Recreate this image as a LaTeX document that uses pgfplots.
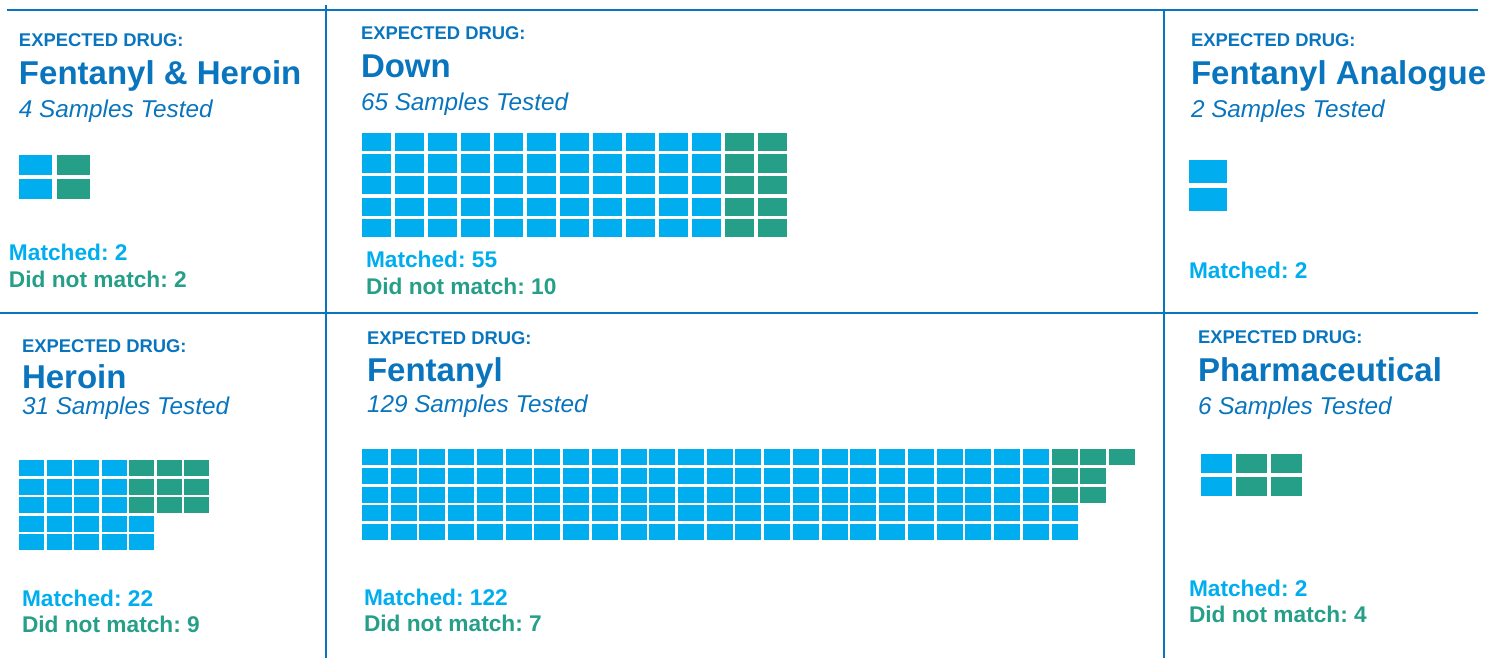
\documentclass[border=0pt]{standalone}
\usepackage{pgfplots}
\pgfplotsset{compat=1.18}
\usepackage{fontspec}
\setmainfont{Liberation Sans}
\frenchspacing
\definecolor{cblue}{RGB}{0,174,239}
\definecolor{cgreen}{RGB}{38,159,137}
\definecolor{dblue}{RGB}{8,117,190}
\pgfdeclareplotmark{cell}{\pgfpathrectangle{\pgfpoint{-\pgfplotmarksize}{-\pgfplotmarksize}}{\pgfpoint{2\pgfplotmarksize}{2\pgfplotmarksize}}\pgfusepathqfill}
\tikzset{
 lab/.style={anchor=base west, inner sep=0pt, outer sep=0pt, text=dblue, font=\bfseries\fontsize{18.4}{19}\selectfont},
 ttl/.style={anchor=base west, inner sep=0pt, outer sep=0pt, text=dblue, font=\bfseries\fontsize{33}{34}\selectfont},
 sub/.style={anchor=base west, inner sep=0pt, outer sep=0pt, text=dblue, font=\itshape\fontsize{24.3}{25}\selectfont},
 mt/.style={anchor=base west, inner sep=0pt, outer sep=0pt, text=cblue, font=\bfseries\fontsize{22.7}{23}\selectfont},
 dn/.style={anchor=base west, inner sep=0pt, outer sep=0pt, text=cgreen, font=\bfseries\fontsize{22.7}{23}\selectfont},
}
\begin{document}
\begin{tikzpicture}
\begin{axis}[
  width=1491pt, height=658pt, scale only axis,
  xmin=0, xmax=1491, ymin=0, ymax=658, y dir=reverse,
  hide axis, clip=false,
]
% frame lines
\addplot[dblue, line width=2.5pt] coordinates {(7,10) (1478,10)};
\addplot[dblue, line width=2.5pt] coordinates {(0,313) (1478,313)};
\addplot[dblue, line width=2.5pt] coordinates {(326,5) (326,658)};
\addplot[dblue, line width=2.5pt] coordinates {(1164,10) (1164,658)};

% ---------- Fentanyl & Heroin: left 19, top 155, w 33, h 20, px 38, py 24
\addplot[only marks, mark=cell, mark size=10pt, mark options={xscale=1.65}, color=cblue]
  table[row sep=\\, x expr={19+16.5+38*\thisrow{c}}, y expr={155+10+24*\thisrow{r}}] {c r\\ 0 0\\ 0 1\\};
\addplot[only marks, mark=cell, mark size=10pt, mark options={xscale=1.65}, color=cgreen]
  table[row sep=\\, x expr={19+16.5+38*\thisrow{c}}, y expr={155+10+24*\thisrow{r}}] {c r\\ 1 0\\ 1 1\\};

% ---------- Down: left 362, top 133, w 29, h 18, px 33, py 21.5
\addplot[only marks, mark=cell, mark size=9pt, mark options={xscale=1.611}, color=cblue]
  table[row sep=\\, x expr={362+14.5+33*\thisrow{c}}, y expr={133+9+21.5*\thisrow{r}}] {c r\\
  0 0\\ 0 1\\ 0 2\\ 0 3\\ 0 4\\
  1 0\\ 1 1\\ 1 2\\ 1 3\\ 1 4\\
  2 0\\ 2 1\\ 2 2\\ 2 3\\ 2 4\\
  3 0\\ 3 1\\ 3 2\\ 3 3\\ 3 4\\
  4 0\\ 4 1\\ 4 2\\ 4 3\\ 4 4\\
  5 0\\ 5 1\\ 5 2\\ 5 3\\ 5 4\\
  6 0\\ 6 1\\ 6 2\\ 6 3\\ 6 4\\
  7 0\\ 7 1\\ 7 2\\ 7 3\\ 7 4\\
  8 0\\ 8 1\\ 8 2\\ 8 3\\ 8 4\\
  9 0\\ 9 1\\ 9 2\\ 9 3\\ 9 4\\
  10 0\\ 10 1\\ 10 2\\ 10 3\\ 10 4\\
  };
\addplot[only marks, mark=cell, mark size=9pt, mark options={xscale=1.611}, color=cgreen]
  table[row sep=\\, x expr={362+14.5+33*\thisrow{c}}, y expr={133+9+21.5*\thisrow{r}}] {c r\\
  11 0\\ 11 1\\ 11 2\\ 11 3\\ 11 4\\
  12 0\\ 12 1\\ 12 2\\ 12 3\\ 12 4\\
  };

% ---------- Fentanyl Analogue: left 1189, top 160, w 38, h 23, py 28
\addplot[only marks, mark=cell, mark size=11.5pt, mark options={xscale=1.652}, color=cblue]
  table[row sep=\\, x expr={1189+19+38*\thisrow{c}}, y expr={160+11.5+28*\thisrow{r}}] {c r\\ 0 0\\ 0 1\\};

% ---------- Heroin: left 19, top 460, w 25, h 16, px 27.5, py 18.5
\addplot[only marks, mark=cell, mark size=8pt, mark options={xscale=1.5625}, color=cblue]
  table[row sep=\\, x expr={19+12.5+27.5*\thisrow{c}}, y expr={460+8+18.5*\thisrow{r}}] {c r\\
  0 0\\ 0 1\\ 0 2\\ 0 3\\ 0 4\\
  1 0\\ 1 1\\ 1 2\\ 1 3\\ 1 4\\
  2 0\\ 2 1\\ 2 2\\ 2 3\\ 2 4\\
  3 0\\ 3 1\\ 3 2\\ 3 3\\ 3 4\\
  4 3\\ 4 4\\
  };
\addplot[only marks, mark=cell, mark size=8pt, mark options={xscale=1.5625}, color=cgreen]
  table[row sep=\\, x expr={19+12.5+27.5*\thisrow{c}}, y expr={460+8+18.5*\thisrow{r}}] {c r\\
  4 0\\ 4 1\\ 4 2\\
  5 0\\ 5 1\\ 5 2\\
  6 0\\ 6 1\\ 6 2\\
  };

% ---------- Fentanyl: left 362, top 449, w 26, h 16, px 28.73, py 18.75
\addplot[only marks, mark=cell, mark size=8pt, mark options={xscale=1.625}, color=cblue]
  table[row sep=\\, x expr={362+13+28.73*\thisrow{c}}, y expr={449+8+18.75*\thisrow{r}}] {c r\\
  0 0\\ 0 1\\ 0 2\\ 0 3\\ 0 4\\
  1 0\\ 1 1\\ 1 2\\ 1 3\\ 1 4\\
  2 0\\ 2 1\\ 2 2\\ 2 3\\ 2 4\\
  3 0\\ 3 1\\ 3 2\\ 3 3\\ 3 4\\
  4 0\\ 4 1\\ 4 2\\ 4 3\\ 4 4\\
  5 0\\ 5 1\\ 5 2\\ 5 3\\ 5 4\\
  6 0\\ 6 1\\ 6 2\\ 6 3\\ 6 4\\
  7 0\\ 7 1\\ 7 2\\ 7 3\\ 7 4\\
  8 0\\ 8 1\\ 8 2\\ 8 3\\ 8 4\\
  9 0\\ 9 1\\ 9 2\\ 9 3\\ 9 4\\
  10 0\\ 10 1\\ 10 2\\ 10 3\\ 10 4\\
  11 0\\ 11 1\\ 11 2\\ 11 3\\ 11 4\\
  12 0\\ 12 1\\ 12 2\\ 12 3\\ 12 4\\
  13 0\\ 13 1\\ 13 2\\ 13 3\\ 13 4\\
  14 0\\ 14 1\\ 14 2\\ 14 3\\ 14 4\\
  15 0\\ 15 1\\ 15 2\\ 15 3\\ 15 4\\
  16 0\\ 16 1\\ 16 2\\ 16 3\\ 16 4\\
  17 0\\ 17 1\\ 17 2\\ 17 3\\ 17 4\\
  18 0\\ 18 1\\ 18 2\\ 18 3\\ 18 4\\
  19 0\\ 19 1\\ 19 2\\ 19 3\\ 19 4\\
  20 0\\ 20 1\\ 20 2\\ 20 3\\ 20 4\\
  21 0\\ 21 1\\ 21 2\\ 21 3\\ 21 4\\
  22 0\\ 22 1\\ 22 2\\ 22 3\\ 22 4\\
  23 0\\ 23 1\\ 23 2\\ 23 3\\ 23 4\\
  24 3\\ 24 4\\
  };
\addplot[only marks, mark=cell, mark size=8pt, mark options={xscale=1.625}, color=cgreen]
  table[row sep=\\, x expr={362+13+28.73*\thisrow{c}}, y expr={449+8+18.75*\thisrow{r}}] {c r\\
  24 0\\ 24 1\\ 24 2\\
  25 0\\ 25 1\\ 25 2\\
  26 0\\
  };

% ---------- Pharmaceutical: left 1201, top 454, w 31, h 19, px 35, py 23
\addplot[only marks, mark=cell, mark size=9.5pt, mark options={xscale=1.632}, color=cblue]
  table[row sep=\\, x expr={1201+15.5+35*\thisrow{c}}, y expr={454+9.5+23*\thisrow{r}}] {c r\\ 0 0\\ 0 1\\};
\addplot[only marks, mark=cell, mark size=9.5pt, mark options={xscale=1.632}, color=cgreen]
  table[row sep=\\, x expr={1201+15.5+35*\thisrow{c}}, y expr={454+9.5+23*\thisrow{r}}] {c r\\ 1 0\\ 1 1\\ 2 0\\ 2 1\\};

% ---------- texts
\node[lab] at (axis cs:19,47) {EXPECTED DRUG:};
\node[ttl] at (axis cs:19,85) {Fentanyl \& Heroin};
\node[sub] at (axis cs:19,118) {4 Samples Tested};
\node[mt] at (axis cs:9,260) {Matched: 2};
\node[dn] at (axis cs:9,287) {Did not match: 2};

\node[lab] at (axis cs:361,40) {EXPECTED DRUG:};
\node[ttl] at (axis cs:361,78) {Down};
\node[sub] at (axis cs:361,111) {65 Samples Tested};
\node[mt] at (axis cs:366,267) {Matched: 55};
\node[dn] at (axis cs:366,294) {Did not match: 10};

\node[lab] at (axis cs:1191,47) {EXPECTED DRUG:};
\node[ttl] at (axis cs:1191,85) {Fentanyl Analogue};
\node[sub] at (axis cs:1191,118) {2 Samples Tested};
\node[mt] at (axis cs:1189,278) {Matched: 2};

\node[lab] at (axis cs:22,352) {EXPECTED DRUG:};
\node[ttl] at (axis cs:22,388) {Heroin};
\node[sub] at (axis cs:22,414) {31 Samples Tested};
\node[mt] at (axis cs:22,606) {Matched: 22};
\node[dn] at (axis cs:22,632) {Did not match: 9};

\node[lab] at (axis cs:367,344) {EXPECTED DRUG:};
\node[ttl] at (axis cs:367,381) {Fentanyl};
\node[sub] at (axis cs:367,412) {129 Samples Tested};
\node[mt] at (axis cs:364,605) {Matched: 122};
\node[dn] at (axis cs:364,631) {Did not match: 7};

\node[lab] at (axis cs:1198,343) {EXPECTED DRUG:};
\node[ttl] at (axis cs:1198,381) {Pharmaceutical};
\node[sub] at (axis cs:1198,414) {6 Samples Tested};
\node[mt] at (axis cs:1189,596) {Matched: 2};
\node[dn] at (axis cs:1189,622) {Did not match: 4};
\end{axis}
\pgfresetboundingbox
\useasboundingbox (current axis.south west) rectangle (current axis.north east);
\end{tikzpicture}
\end{document}
